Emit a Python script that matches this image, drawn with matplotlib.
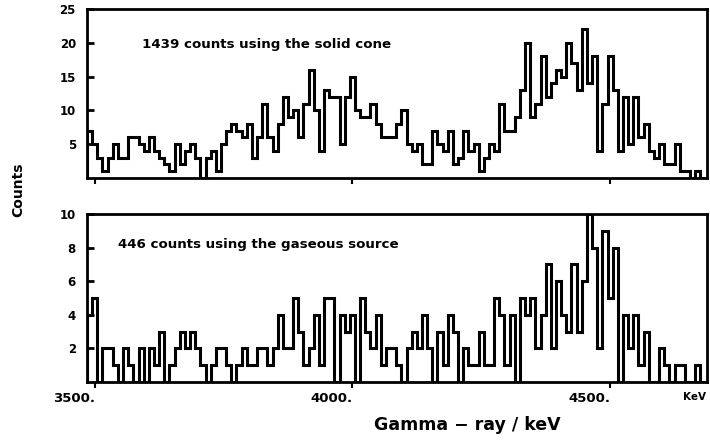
import numpy as np
import matplotlib
matplotlib.use("Agg")
import matplotlib.pyplot as plt

# ---- data ----
bin_start_kev = 3485
bin_width_kev = 10
n_bins = 120

solid_counts = [
    7, 5, 3, 1, 3, 5, 3, 3, 6, 6,
    5, 4, 6, 4, 3, 2, 1, 5, 2, 4,
    5, 3, 0, 3, 4, 1, 5, 7, 8, 7,
    6, 8, 3, 6, 11, 6, 4, 8, 12, 9,
    10, 6, 11, 16, 10, 4, 13, 12, 12, 5,
    12, 15, 10, 9, 9, 11, 8, 6, 6, 6,
    8, 10, 5, 4, 5, 2, 2, 7, 5, 4,
    7, 2, 3, 7, 4, 5, 1, 3, 5, 4,
    11, 7, 7, 9, 13, 20, 9, 11, 18, 12,
    14, 16, 15, 20, 17, 13, 22, 14, 18, 4,
    11, 18, 13, 4, 12, 5, 12, 6, 8, 4,
    3, 5, 2, 2, 5, 1, 1, 0, 1, 0,
]

gas_counts = [
    4, 5, 0, 2, 2, 1, 0, 2, 1, 0,
    2, 0, 2, 1, 3, 0, 1, 2, 3, 2,
    3, 2, 1, 0, 1, 2, 2, 1, 0, 1,
    2, 1, 1, 2, 2, 1, 2, 4, 2, 2,
    5, 3, 1, 2, 4, 1, 5, 5, 0, 4,
    3, 4, 0, 5, 3, 2, 4, 1, 2, 2,
    1, 0, 2, 3, 2, 4, 2, 0, 3, 1,
    4, 3, 0, 2, 1, 1, 3, 1, 1, 5,
    4, 1, 4, 0, 5, 4, 5, 2, 4, 7,
    2, 6, 4, 3, 7, 3, 6, 10, 8, 2,
    9, 5, 8, 0, 4, 2, 4, 1, 3, 0,
    0, 2, 1, 0, 1, 1, 0, 0, 1, 0,
]

x_ticks = [3500, 4000, 4500]
x_tick_labels = ["3500.", "4000.", "4500."]
top_yticks = [5, 10, 15, 20, 25]
bot_yticks = [2, 4, 6, 8, 10]
top_text = "1439 counts using the solid cone"
bot_text = "446 counts using the gaseous source"

edges = bin_start_kev + bin_width_kev * np.arange(n_bins + 1)

plt.rcParams['font.family'] = ['DejaVu Sans']
fig = plt.figure(figsize=(7.1, 4.42), dpi=100)

ax1 = fig.add_axes([87 / 710, 1 - 178 / 442, 620 / 710, 169 / 442])
ax2 = fig.add_axes([87 / 710, 1 - 382 / 442, 620 / 710, 168 / 442])

for ax, vals, ymax, yt, txt, tx, ty in [
    (ax1, solid_counts, 25, top_yticks, top_text, 0.089, 0.79),
    (ax2, gas_counts, 10, bot_yticks, bot_text, 0.05, 0.82),
]:
    ax.stairs(vals, edges, color='black', lw=2.2, baseline=0)
    ax.set_xlim(3485, 4688)
    ax.set_ylim(0, ymax)
    ax.set_yticks(yt)
    ax.set_yticklabels([str(v) for v in yt], fontsize=8.5, fontweight='bold')
    ax.tick_params(axis='y', direction='in', length=5, width=2, pad=8)
    ax.tick_params(axis='x', direction='out', length=4, width=1.5)
    ax.set_xticks(x_ticks)
    for s in ax.spines.values():
        s.set_linewidth(2)
    ax.text(tx, ty, txt, transform=ax.transAxes,
            fontsize=9.6, fontweight='bold', ha='left', va='center')

ax1.set_xticklabels([])
ax2.set_xticklabels(x_tick_labels, fontsize=9.5, fontweight='bold', ha='right')
ax2.tick_params(axis='x', pad=3)
ax2.text(4686, -0.9, "KeV", fontsize=7.5, fontweight='bold', ha='right', va='center')

fig.text(18 / 710, 1 - 190 / 442, "Counts", rotation=90, fontsize=10,
         fontweight='bold', ha='center', va='center')
fig.text(467 / 710, 1 - 425 / 442, "Gamma \u2212 ray / keV", fontsize=12.5,
         fontweight='bold', ha='center', va='center')

fig.savefig("out.png", dpi=100)
